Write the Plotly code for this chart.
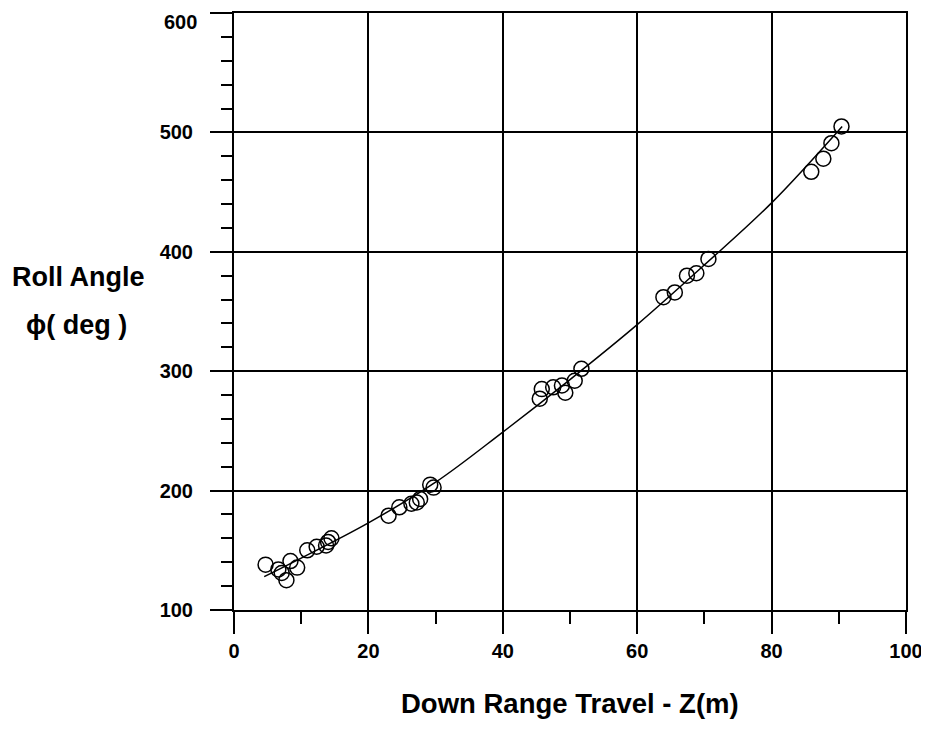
import plotly.graph_objects as go

# measured points: down range travel Z (m) vs roll angle (deg)
z_meas = [4.7, 6.6, 7.1, 7.8, 8.4, 9.4,
          10.9, 12.3, 13.7, 14.0, 14.5,
          23.0, 24.6, 26.4, 27.2, 27.7, 29.2, 29.7,
          45.5, 45.8, 47.5, 48.8, 49.3, 50.7, 51.7,
          63.9, 65.6, 67.4, 68.8, 70.6,
          85.9, 87.7, 88.9, 90.4]
phi_meas = [138, 134, 131, 125, 141, 135.5,
            150, 153, 154, 157, 160,
            179, 186, 189, 190, 193, 205, 202.5,
            277, 285, 286.5, 288, 282, 292, 302,
            362, 366, 380, 382, 394,
            467, 478, 491, 505]

# fitted curve
z_fit = [4.5, 10, 20, 30, 40, 50, 60, 70, 80, 90.5]
phi_fit = [128, 143.5, 173, 207, 249, 293, 339, 389, 441, 505]

y_ticks = [100, 200, 300, 400, 500]
y_top_label = 600

black = "#000000"
font = "Liberation Sans, Arial, sans-serif"

fig = go.Figure()
fig.add_trace(go.Scatter(x=z_fit, y=phi_fit, mode="lines",
                         line=dict(color=black, width=1.5, shape="spline"),
                         showlegend=False))
fig.add_trace(go.Scatter(x=z_meas, y=phi_meas, mode="markers",
                         marker=dict(symbol="circle-open", size=15,
                                     color=black, line=dict(width=1.5)),
                         showlegend=False))

# page body adds an 8px margin, so the figure is a bit smaller than the window
fig.update_layout(
    width=921, height=728,
    margin=dict(l=226, r=23, t=5, b=126),
    paper_bgcolor="white", plot_bgcolor="white",
    font=dict(family=font, size=20, color=black, weight="bold"),
    showlegend=False,
)
fig.update_xaxes(
    range=[0, 100], dtick=20, tick0=0, automargin=False,
    showline=True, linecolor=black, linewidth=2, mirror=True,
    showgrid=True, gridcolor=black, gridwidth=1.5,
    ticks="outside", ticklen=22, tickwidth=1.5, tickcolor=black,
    minor=dict(dtick=10, ticks="outside", ticklen=12, tickwidth=1.5,
               tickcolor=black, showgrid=False),
    zeroline=False,
    tickfont=dict(family=font, size=20, color=black, weight="bold"),
    ticklabelstandoff=0,
)
fig.update_yaxes(
    range=[100, 600], tickvals=y_ticks + [y_top_label], ticktext=[str(v) for v in y_ticks] + [""],
    automargin=False,
    showline=True, linecolor=black, linewidth=2, mirror=True,
    showgrid=True, gridcolor=black, gridwidth=1.5,
    ticks="outside", ticklen=22, tickwidth=1.5, tickcolor=black,
    minor=dict(dtick=20, ticks="outside", ticklen=11, tickwidth=1.5,
               tickcolor=black, showgrid=False),
    zeroline=False,
    tickfont=dict(family=font, size=20, color=black, weight="bold"),
    ticklabelstandoff=13,
)

# the top tick label sits at the page edge, so draw it by hand a little lower
fig.add_annotation(text=str(y_top_label), xref="paper", yref="y",
                   x=0, y=y_top_label, xanchor="right", yanchor="middle",
                   xshift=-35, yshift=-9, showarrow=False,
                   font=dict(family=font, size=20, color=black, weight="bold"))

fig.add_annotation(text="Down Range Travel - Z(m)", xref="paper", yref="paper",
                   x=0.5, y=-0.157, xanchor="center", yanchor="middle",
                   showarrow=False,
                   font=dict(family=font, size=27.5, color=black, weight="bold"))
fig.add_annotation(text="Roll Angle", xref="paper", yref="paper",
                   x=-0.232, y=0.558, xanchor="center", yanchor="middle",
                   showarrow=False,
                   font=dict(family=font, size=27, color=black, weight="bold"))
fig.add_annotation(text="ϕ( deg )", xref="paper", yref="paper",
                   x=-0.234, y=0.477, xanchor="center", yanchor="middle",
                   showarrow=False,
                   font=dict(family=font, size=27, color=black, weight="bold"))

fig.write_html("out.html")
